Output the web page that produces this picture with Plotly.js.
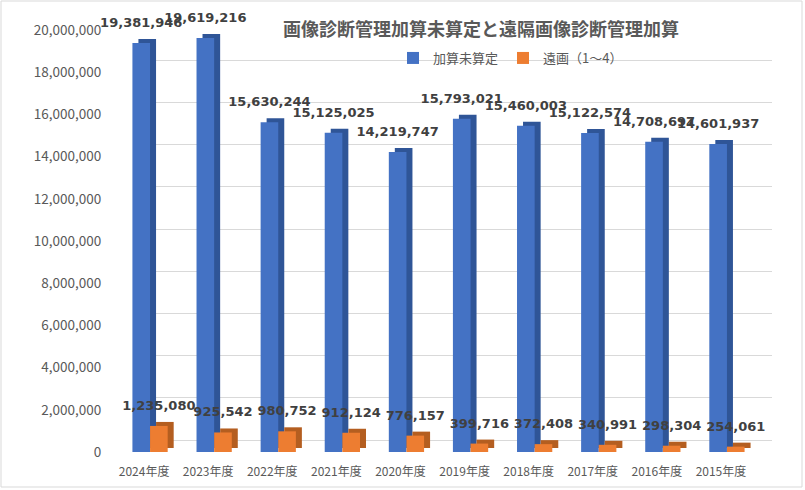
<!DOCTYPE html>
<html>
<head>
<meta charset="utf-8">
<script src="https://cdn.plot.ly/plotly-3.0.1.min.js"></script>
<style>html,body{margin:0;padding:0;background:#fff;}#chart{width:805px;height:490px;}</style>
</head>
<body>
<div id="chart"></div>
<script>
// ---- data ----
const categories = ['2024年度','2023年度','2022年度','2021年度','2020年度','2019年度','2018年度','2017年度','2016年度','2015年度'];
const miSantei = [19381946, 19619216, 15630244, 15125025, 14219747, 15793021, 15460003, 15122574, 14708697, 14601937];
const enkaku = [1235080, 925542, 980752, 912124, 776157, 399716, 372408, 340991, 298304, 254061];
const seriesNames = ['加算未算定', '遠画（1～4）'];
const chartTitle = '画像診断管理加算未算定と遠隔画像診断管理加算';

// ---- layout helpers (pixel -> paper fraction) ----
const W = 805, H = 490;
const fx = p => p / W;
const fy = p => 1 - p / H;

const jp = 'Noto Sans CJK JP, Noto Sans, sans-serif';
const blue = '#4472C4', blueSide = '#2F5597';
const orange = '#ED7D31', orangeSide = '#B45E20';
const labelFont = {family:'DejaVu Sans, Verdana, sans-serif', size:13, weight:'bold', color:'#404040'};

const traces = [
  // back wall (gridlines only)
  {type:'scatter', x:[], y:[], xaxis:'x', yaxis:'y', showlegend:false, hoverinfo:'skip'},
  // bar depth (back faces)
  {type:'bar', name:seriesNames[0], x:categories, y:miSantei, xaxis:'x2', yaxis:'y2',
   marker:{color:blueSide}, showlegend:false, textposition:'none'},
  {type:'bar', name:seriesNames[1], x:categories, y:enkaku, xaxis:'x2', yaxis:'y2',
   marker:{color:orangeSide}, showlegend:false, textposition:'none'},
  // front faces
  {type:'bar', name:seriesNames[0], x:categories, y:miSantei, xaxis:'x3', yaxis:'y3',
   marker:{color:blue}, textposition:'none'},
  {type:'bar', name:seriesNames[1], x:categories, y:enkaku, xaxis:'x3', yaxis:'y3',
   marker:{color:orange}, textposition:'none'},
  // data labels layer
  {type:'bar', name:seriesNames[0], x:categories, y:miSantei, xaxis:'x4', yaxis:'y4',
   marker:{color:'rgba(0,0,0,0)'}, showlegend:false,
   texttemplate:'%{y:,d}', textposition:'outside', constraintext:'none', cliponaxis:false,
   textfont:labelFont},
  {type:'bar', name:seriesNames[1], x:categories, y:enkaku, xaxis:'x4', yaxis:'y4',
   marker:{color:'rgba(0,0,0,0)'}, showlegend:false,
   texttemplate:'%{y:,d}', textposition:'outside', constraintext:'none', cliponaxis:false,
   textfont:labelFont}
];

const yRange = [0, 20000000];

const layout = {
  width: W, height: H,
  margin: {l:0, r:0, t:0, b:0},
  paper_bgcolor: '#ffffff',
  plot_bgcolor: 'rgba(0,0,0,0)',
  hovermode: false,
  barmode: 'group',
  bargap: 0.45,
  bargroupgap: 0,
  title: {
    text: chartTitle,
    x: fx(481), xanchor: 'center', xref: 'paper',
    y: fy(30), yanchor: 'middle', yref: 'paper',
    font: {family: jp, size: 18, weight: 'bold', color: '#595959'}
  },
  legend: {
    orientation: 'h',
    x: fx(393), xanchor: 'left',
    y: fy(58), yanchor: 'middle',
    bgcolor: 'rgba(0,0,0,0)',
    font: {family: jp, size: 13, color: '#595959'}
  },
  // back wall
  xaxis: {domain:[fx(133), fx(772)], range:[0,1], visible:false, anchor:'y', fixedrange:true},
  yaxis: {domain:[fy(440), fy(18)], range:yRange, dtick:2000000, anchor:'x',
          showgrid:true, gridcolor:'#D9D9D9', gridwidth:1,
          zeroline:true, zerolinecolor:'#D9D9D9', zerolinewidth:1,
          showticklabels:false, ticks:'', showline:false, fixedrange:true},
  // bar depth
  xaxis2: {domain:[fx(124), fx(765)], type:'category', visible:false, anchor:'y2', fixedrange:true},
  yaxis2: {domain:[fy(448), fy(26)], range:yRange, visible:false, anchor:'x2', fixedrange:true},
  // front
  xaxis3: {domain:[fx(118), fx(759)], type:'category', anchor:'y3',
           showgrid:false, showline:false, zeroline:false,
           ticks:'outside', ticklen:9, tickcolor:'rgba(0,0,0,0)', ticklabelshift:-6,
           tickfont:{family: jp, size:12, color:'#595959'}, fixedrange:true},
  yaxis3: {domain:[fy(452), fy(30)], range:yRange, dtick:2000000, tickformat:',d', anchor:'x3',
           showgrid:false, showline:false, zeroline:false,
           ticks:'outside', ticklen:13, tickcolor:'rgba(0,0,0,0)',
           tickfont:{family: jp, size:13.5, color:'#595959'}, fixedrange:true},
  // labels
  xaxis4: {domain:[fx(118), fx(759)], type:'category', visible:false, anchor:'y4', fixedrange:true},
  yaxis4: {domain:[fy(442), fy(20)], range:yRange, visible:false, anchor:'x4', fixedrange:true},
  shapes: [
    {type:'rect', xref:'paper', yref:'paper', x0:fx(1), x1:fx(802), y0:fy(487), y1:fy(1),
     line:{color:'#D9D9D9', width:1}, fillcolor:'rgba(0,0,0,0)', layer:'below'}
  ]
};

Plotly.newPlot('chart', traces, layout, {displayModeBar:false, staticPlot:true});
</script>
</body>
</html>
